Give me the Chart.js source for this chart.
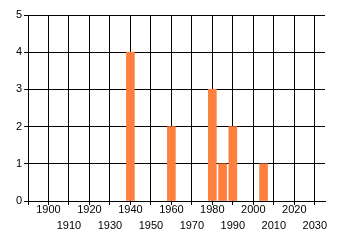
<!DOCTYPE html>
<html>
<head>
<meta charset="utf-8">
<script src="https://cdn.jsdelivr.net/npm/chart.js@4"></script>
<style>
  html, body { margin: 0; padding: 0; background: #fff; }
  canvas { display: block; }
</style>
</head>
<body>
<canvas id="myBarChart" width="340" height="245"></canvas>
<script>
// values
const years = [1940, 1960, 1980, 1985, 1990, 2005];
const counts = [4, 2, 3, 1, 2, 1];
const xMin = 1890;
const xMax = 2035;
const yMax = 5;

const ctx = document.getElementById("myBarChart");
new Chart(ctx, {
    type: "bar",
    data: {
        datasets: [{
            data: years.map((y, i) => ({ x: y, y: counts[i] })),
            backgroundColor: "#ff7f3f",
            borderWidth: 0,
            barThickness: 8,
        }],
    },
    options: {
        responsive: false,
        animation: false,
        layout: { padding: { left: 0, right: 15, top: 15, bottom: 0 } },
        plugins: { legend: { display: false }, tooltip: { enabled: false } },
        scales: {
            x: {
                type: "linear",
                min: xMin,
                max: xMax,
                offset: false,
                grid: { color: "#000", lineWidth: 1, tickLength: 4, offset: false },
                border: { color: "#000" },
                afterFit: (scale) => { scale.height = 44; },
                ticks: {
                    stepSize: 10,
                    includeBounds: false,
                    autoSkip: false,
                    maxRotation: 0,
                    padding: -3,
                    color: "#000",
                    font: { family: "'Liberation Sans', Arial, sans-serif", size: 11, lineHeight: "16px" },
                    // alternate the labels over two rows
                    callback: (v) => {
                        if (v === xMin) return "";
                        return ((v - 1900) / 10) % 2 === 0 ? [String(v), ""] : ["", String(v)];
                    },
                },
            },
            y: {
                min: 0,
                max: yMax,
                grid: { color: "#000", lineWidth: 1, tickLength: 4 },
                border: { color: "#000" },
                afterFit: (scale) => { scale.width = 28; },
                ticks: {
                    stepSize: 1,
                    padding: 2,
                    color: "#000",
                    font: { family: "'Liberation Sans', Arial, sans-serif", size: 11 },
                },
            },
        },
    },
});
</script>
</body>
</html>
